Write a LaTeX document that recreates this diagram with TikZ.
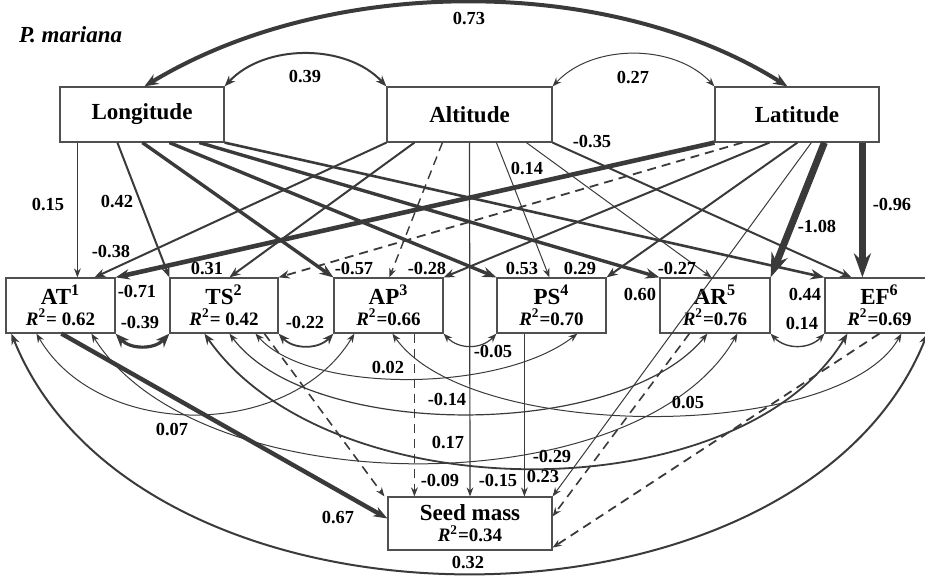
\documentclass[tikz,border=0pt]{standalone}
\usepackage{fontspec}
\setmainfont{Liberation Serif}
\usetikzlibrary{arrows.meta, calc}
\definecolor{pathgray}{HTML}{3A3A3A}
\definecolor{boxgray}{HTML}{505050}

\tikzset{
  var/.style={draw=boxgray, line width=0.6pt, inner sep=0pt, align=center,
    minimum height=27.5pt, font=\fontsize{11.5}{10.5}\selectfont\bfseries},
  coef/.style={font=\fontsize{9.2}{10}\selectfont\bfseries, inner sep=0pt},
  pa/.style={draw=pathgray, line width=0.5pt, -{Stealth[length=4.5pt,width=3.4pt]}},
  pb/.style={draw=pathgray, line width=1pt, -{Stealth[length=5.5pt,width=4.2pt]}},
  pc/.style={draw=pathgray, line width=1.7pt, -{Stealth[length=7pt,width=5.2pt]}},
  pd/.style={draw=pathgray, line width=3.5pt, -{Stealth[length=12pt,width=8.5pt]}},
  ca/.style={draw=pathgray, line width=0.5pt,
    {Stealth[length=4.5pt,width=3.4pt]}-{Stealth[length=4.5pt,width=3.4pt]}},
  cb/.style={draw=pathgray, line width=1pt,
    {Stealth[length=5.5pt,width=4.2pt]}-{Stealth[length=5.5pt,width=4.2pt]}},
  cc/.style={draw=pathgray, line width=1.8pt,
    {Stealth[length=7pt,width=5.5pt]}-{Stealth[length=7pt,width=5.5pt]}},
  neg/.style={dash pattern=on 4.5pt off 3pt},
}
\newcommand{\rsq}[1]{{\fontsize{9.5}{10.5}\selectfont\textit{R}\textsuperscript{2}#1}}

\begin{document}
\begin{tikzpicture}[x=0.5pt, y=-0.5pt]
  \clip (0,0) rectangle (925,578);

  \node[font=\fontsize{11.5}{12}\selectfont\bfseries\itshape, anchor=west] (title) at (12,35) {P. mariana};

  % exogenous
  \node[var, minimum width=82pt] (lon) at (142,114.5) {Longitude};
  \node[var, minimum width=82.5pt] (alt) at (469.5,114.5) {Altitude};
  \node[var, minimum width=82pt] (lat) at (797,114.5) {Latitude};

  % climate
  \node[var, minimum width=54.5pt] (at) at (60.5,305.5) {AT\textsuperscript{1}\\\rsq{= 0.62}};
  \node[var, minimum width=54pt] (ts) at (224,305.5) {TS\textsuperscript{2}\\\rsq{= 0.42}};
  \node[var, minimum width=54.5pt] (ap) at (388.5,305.5) {AP\textsuperscript{3}\\\rsq{=0.66}};
  \node[var, minimum width=54.5pt] (ps) at (551.5,305.5) {PS\textsuperscript{4}\\\rsq{=0.70}};
  \node[var, minimum width=55pt] (ar) at (715,305.5) {AR\textsuperscript{5}\\\rsq{=0.76}};
  \node[var, minimum width=54.5pt] (ef) at (879.5,305.5) {EF\textsuperscript{6}\\\rsq{=0.69}};

  \node[var, minimum width=82pt, minimum height=26.5pt] (sm) at (470,523.5) {Seed mass\\\rsq{=0.34}};

  % correlations of the geographic variables
  \draw[cc, line width=2pt] ($(lon.north west)+(85,0)$) .. controls +(185,-112) and +(-178,-112) .. ($(lat.north west)+(73,0)$);
  \draw[cb] (lon.north east) .. controls +(40,-43) and +(-40,-43) .. (alt.north west);
  \draw[ca] (alt.north east) .. controls +(40,-43) and +(-40,-43) .. (lat.north west);

  % from longitude
  \draw[pa] ($(lon.south west)+(18,0)$) -- ($(at.north west)+(72,0)$);
  \draw[pb] ($(lon.south west)+(58,0)$) -- (ts.north west);
  \draw[pc] ($(lon.south west)+(83,0)$) -- (ap.north west);
  \draw[pc] ($(lon.south west)+(110,0)$) -- (ps.north west);
  \draw[pc] ($(lon.south west)+(140,0)$) -- (ar.north west);
  \draw[pc, line width=1.3pt] (lon.south east) -- (ef.north west);

  % from altitude
  \draw[pb] (alt.south west) -- ($(at.north west)+(89,0)$);
  \draw[pb] ($(alt.south west)+(28,0)$) -- ($(ts.north west)+(60,0)$);
  \draw[pa, neg, line width=0.7pt] ($(alt.south west)+(56,0)$) -- ($(ap.north west)+(56,0)$);
  \draw[pa, line width=0.6pt] (alt.south) -- (sm.north);
  \draw[pa] ($(alt.south west)+(110,0)$) -- ($(ps.north west)+(53,0)$);
  \draw[pa] ($(alt.south west)+(140,0)$) -- ($(ar.north west)+(52,0)$);
  \draw[pb] (alt.south east) -- ($(ef.north west)+(27,0)$);

  % from latitude
  \draw[pc, line width=2.3pt] (lat.south west) -- (at.north east);
  \draw[pb, neg, line width=0.9pt] ($(lat.south west)+(28,0)$) -- (ts.north east);
  \draw[pb] ($(lat.south west)+(55,0)$) -- (ap.north east);
  \draw[pb] ($(lat.south west)+(83,0)$) -- (ps.north east);
  \draw[pa] ($(lat.south west)+(97,0)$) -- (sm.north east);
  \draw[pd] ($(lat.south west)+(110,0)$) -- (ar.north east);
  \draw[pd] ($(lat.south west)+(148,0)$) -- ($(ef.north west)+(38,0)$);

  % into seed mass
  \draw[pc, line width=2.2pt] ($(at.south west)+(56,0)$) -- ($(sm.west)+(0,-5)$);
  \draw[pa, neg, line width=0.8pt] ($(ts.south west)+(95,0)$) -- ($(sm.north west)+(-3,0)$);
  \draw[pa, neg, line width=0.8pt] ($(ap.south west)+(81,0)$) -- ($(sm.north west)+(27,0)$);
  \draw[pa, line width=0.6pt] ($(ps.south west)+(28,0)$) -- ($(sm.north west)+(137,0)$);
  \draw[pa, neg, line width=0.8pt] ($(ar.south west)+(30,0)$) -- ($(sm.north east)+(0,20)$);
  \draw[pa, neg, line width=0.9pt] ($(ef.south west)+(55,0)$) -- ($(sm.south east)+(0,-3)$);

  % residual correlations
  \draw[cc, line width=1.6pt] (at.south east) .. controls +(15,16) and +(-15,16) .. (ts.south west);
  \draw[cb, line width=0.9pt] (ts.south east) .. controls +(15,16) and +(-15,16) .. (ap.south west);
  \draw[ca, line width=0.6pt] (ap.south east) .. controls +(15,16) and +(-15,16) .. (ps.south west);
  \draw[ca, line width=0.7pt] (ar.south east) .. controls +(15,16) and +(-15,16) .. (ef.south west);
  \draw[cb] ($(at.south west)+(6,0)$) .. controls +(128,319) and +(-128,319) .. ($(ef.south west)+(103,0)$);
  \draw[ca] ($(at.south west)+(31,0)$) .. controls +(63,107) and +(-65,107) .. ($(ap.south west)+(21,0)$);
  \draw[ca] ($(at.south west)+(86,0)$) .. controls +(108,172) and +(-98,172) .. ($(ar.south west)+(78,0)$);
  \draw[cb, line width=0.9pt] ($(ts.south west)+(35,0)$) .. controls +(125,179) and +(-108,179) .. ($(ef.south west)+(23,0)$);
  \draw[ca, line width=0.6pt] ($(ts.south west)+(60,0)$) .. controls +(80,107) and +(-88,107) .. ($(ar.south west)+(48,0)$);
  \draw[ca] ($(ts.south west)+(86,0)$) .. controls +(54,60) and +(-78,60) .. ($(ps.south west)+(81,0)$);
  \draw[ca] ($(ap.south west)+(59,0)$) .. controls +(77,109) and +(-62,109) .. ($(ef.south west)+(77,0)$);

  % coefficients
  \node[coef] (k1) at (469,19) {0.73};
  \node[coef] (k2) at (305,77) {0.39};
  \node[coef] (k3) at (633,78) {0.27};
  \node[coef] (k4) at (48,205) {0.15};
  \node[coef] (k5) at (117,202) {0.42};
  \node[coef] (k6) at (111,252) {-0.38};
  \node[coef] (k7) at (137,292) {-0.71};
  \node[coef] (k8) at (207,269) {0.31};
  \node[coef] (k9) at (354,269) {-0.57};
  \node[coef] (k10) at (427,269) {-0.28};
  \node[coef] (k11) at (522,269) {0.53};
  \node[coef] (k12) at (580,269) {0.29};
  \node[coef] (k13) at (677,269) {-0.27};
  \node[coef] (k14) at (640,295) {0.60};
  \node[coef] (k15) at (805,295) {0.44};
  \node[coef] (k16) at (527,169) {0.14};
  \node[coef] (k17) at (592,142) {-0.35};
  \node[coef] (k18) at (817,227) {-1.08};
  \node[coef] (k19) at (892,205) {-0.96};
  \node[coef] (k20) at (140,323) {-0.39};
  \node[coef] (k21) at (305,323) {-0.22};
  \node[coef] (k22) at (493,352) {-0.05};
  \node[coef] (k23) at (802,324) {0.14};
  \node[coef] (k24) at (388,368) {0.02};
  \node[coef] (k25) at (447,400) {-0.14};
  \node[coef] (k26) at (172,430) {0.07};
  \node[coef] (k27) at (448,443) {0.17};
  \node[coef] (k28) at (552,457) {-0.29};
  \node[coef] (k29) at (688,403) {0.05};
  \node[coef] (k30) at (440,481) {-0.09};
  \node[coef] (k31) at (498,481) {-0.15};
  \node[coef] (k32) at (543,477) {0.23};
  \node[coef] (k33) at (338,518) {0.67};
  \node[coef] (k34) at (468,563) {0.32};
\end{tikzpicture}
\end{document}
